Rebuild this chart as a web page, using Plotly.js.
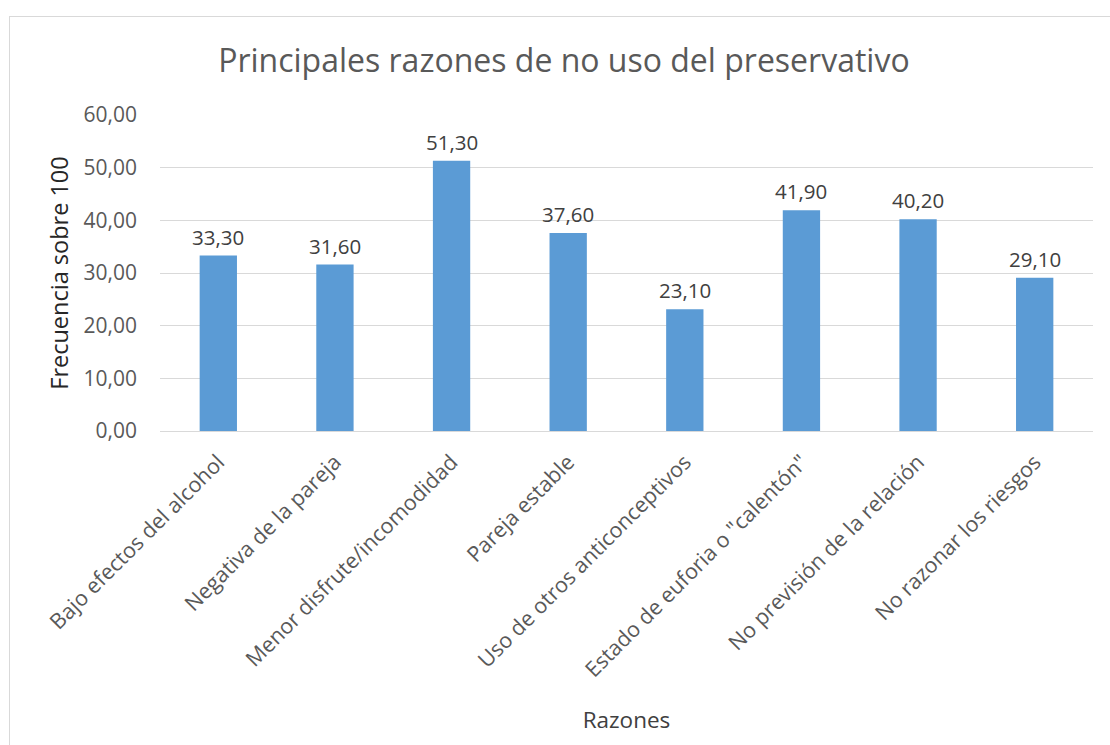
<!DOCTYPE html>
<html>
<head>
<meta charset="utf-8">
<script src="https://cdn.plot.ly/plotly-3.0.1.min.js"></script>
<style>
html,body{margin:0;padding:0;background:#fff;}
#frame{position:absolute;left:9px;top:16px;width:1200px;height:800px;border:1px solid #d9d9d9;box-sizing:border-box;pointer-events:none;z-index:5;}
#chart{position:absolute;left:0;top:0;width:1110px;height:745px;}
</style>
</head>
<body>
<div id="chart"></div>
<div id="frame"></div>
<script>
const categories = [
  "Bajo efectos del alcohol",
  "Negativa de la pareja",
  "Menor disfrute/incomodidad",
  "Pareja estable",
  "Uso de otros anticonceptivos",
  "Estado de euforia o \"calentón\"",
  "No previsión de la relación",
  "No razonar los riesgos"
];
const values = [33.30, 31.60, 51.30, 37.60, 23.10, 41.90, 40.20, 29.10];
const titleText = "Principales razones de no uso del preservativo";
const yTitle = "Frecuencia sobre 100";
const xTitle = "Razones";

const FONT = "Open Sans, sans-serif";
const fmt = v => v.toFixed(2).replace('.', ',');

const trace = {
  type: 'bar',
  x: categories,
  y: values,
  marker: {color: '#5B9BD5'},
  hoverinfo: 'none'
};

const annotations = categories.map((c, i) => ({
  x: c, y: values[i], xref: 'x', yref: 'y',
  text: fmt(values[i]), showarrow: false,
  yanchor: 'bottom', yshift: 3,
  font: {family: FONT, size: 20.5, color: '#404040'}
}));

const layout = {
  width: 1110, height: 745,
  margin: {l: 160, r: 17, t: 115, b: 314},
  paper_bgcolor: '#ffffff', plot_bgcolor: '#ffffff',
  separators: ',.',
  showlegend: false,
  bargap: 0.68,
  title: {text: titleText, x: 0.508, xanchor: 'center', y: 0.918, yanchor: 'middle',
          font: {family: FONT, size: 32, color: '#595959'}},
  xaxis: {
    type: 'category',
    tickangle: -45,
    tickfont: {family: FONT, size: 21.5, color: '#595959'},
    showgrid: false, zeroline: false,
    showline: true, linecolor: '#d9d9d9', linewidth: 1,
    ticks: '',
    ticklabelstandoff: 9,
    title: {text: xTitle, font: {family: FONT, size: 22.5, color: '#404040'}, standoff: 30}
  },
  yaxis: {
    range: [0, 60], dtick: 10, tickformat: '.2f',
    tickfont: {family: FONT, size: 21, color: '#595959'},
    showgrid: true, gridcolor: '#d9d9d9', gridwidth: 1,
    zeroline: false, showline: false, ticks: '', ticklen: 0,
    ticklabelstandoff: 22,
    title: {text: yTitle, font: {family: FONT, size: 23.5, color: '#262626'}, standoff: 8}
  },
  annotations: annotations
};

Plotly.newPlot('chart', [trace], layout, {displayModeBar: false, staticPlot: true});
</script>
</body>
</html>
